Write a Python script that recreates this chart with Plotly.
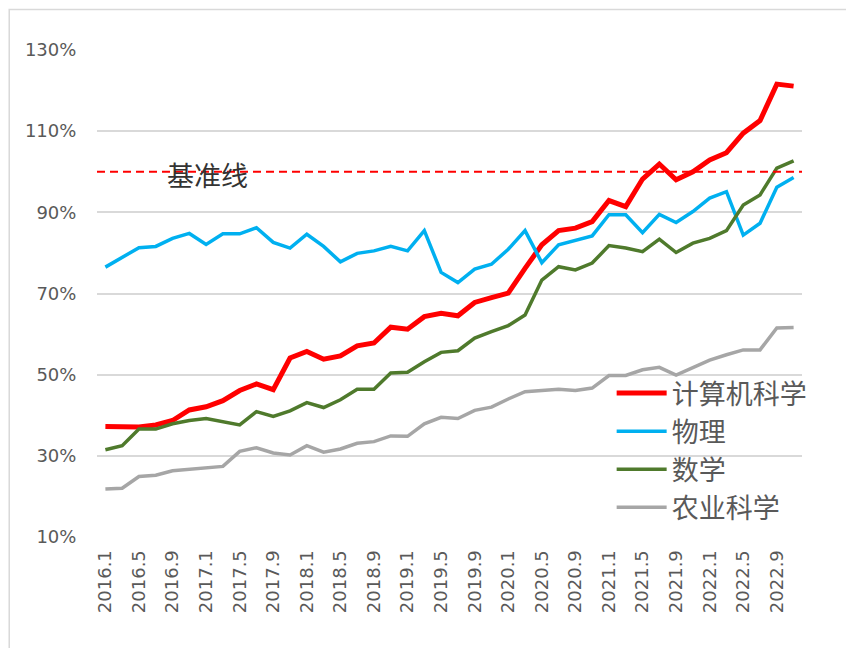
import plotly.graph_objects as go

months = ["2016.1","2016.3","2016.5","2016.7","2016.9","2016.11",
          "2017.1","2017.3","2017.5","2017.7","2017.9","2017.11",
          "2018.1","2018.3","2018.5","2018.7","2018.9","2018.11",
          "2019.1","2019.3","2019.5","2019.7","2019.9","2019.11",
          "2020.1","2020.3","2020.5","2020.7","2020.9","2020.11",
          "2021.1","2021.3","2021.5","2021.7","2021.9","2021.11",
          "2022.1","2022.3","2022.5","2022.7","2022.9","2022.11"]

computer_science = [37.2, 37.3, 37.1, 37.6, 38.7, 41.3, 42.1, 43.6, 46.1, 47.7, 46.3, 54.1,
                    55.7, 53.8, 54.6, 57.1, 57.8, 61.7, 61.2, 64.3, 65.1, 64.5, 67.8, 69.0,
                    70.1, 76.2, 82.0, 85.5, 86.1, 87.7, 92.9, 91.4, 98.2, 101.9, 98.0, 100.0,
                    102.9, 104.7, 109.5, 112.6, 121.6, 121.1]

physics = [76.5, 78.9, 81.3, 81.6, 83.6, 84.8, 82.1, 84.7, 84.7, 86.2, 82.6, 81.2,
           84.6, 81.6, 77.8, 79.9, 80.5, 81.6, 80.5, 85.5, 75.2, 72.7, 76.0, 77.2,
           80.9, 85.5, 77.6, 82.0, 83.1, 84.2, 89.4, 89.4, 85.0, 89.5, 87.5, 90.2,
           93.5, 95.1, 84.4, 87.3, 96.2, 98.6]

mathematics = [31.5, 32.5, 36.6, 36.6, 37.9, 38.7, 39.2, 38.5, 37.6, 40.9, 39.7, 41.1,
               43.1, 41.9, 43.8, 46.4, 46.4, 50.4, 50.6, 53.2, 55.5, 55.9, 59.0, 60.6,
               62.1, 64.7, 73.3, 76.6, 75.8, 77.5, 81.8, 81.2, 80.3, 83.4, 80.1, 82.4,
               83.6, 85.5, 91.8, 94.3, 100.9, 102.7]

agriculture = [21.8, 22.0, 24.9, 25.2, 26.3, 26.6, 27.1, 27.4, 31.1, 32.0, 30.7, 30.2,
               32.5, 30.9, 31.7, 33.1, 33.5, 34.9, 34.8, 37.9, 39.5, 39.2, 41.2, 42.0,
               44.0, 45.8, 46.1, 46.4, 46.1, 46.7, 49.8, 49.8, 51.2, 51.8, 49.9, 51.8,
               53.6, 54.9, 56.1, 56.1, 61.5, 61.6]

series_names = ["计算机科学", "物理", "数学", "农业科学"]
baseline_value = 100
baseline_label = "基准线"
tick_labels = months[::2]

CJK = "Noto Sans CJK SC"
LAT = "DejaVu Sans"

fig = go.Figure()
styles = [("#ff0000", 5), ("#00b0f0", 3.5), ("#4f7a2c", 3.5), ("#a6a6a6", 3.5)]
for name, vals, (col, w) in zip(series_names,
                                [computer_science, physics, mathematics, agriculture],
                                styles):
    fig.add_trace(go.Scatter(x=months, y=vals, mode="lines", name=name,
                             line=dict(color=col, width=w), legendgroup=name))

# baseline
fig.add_shape(type="line", xref="paper", yref="y", x0=0, x1=1,
              y0=baseline_value, y1=baseline_value,
              line=dict(color="#ff0000", width=2, dash="8px,5px"))
fig.add_annotation(xref="paper", yref="y", x=0.157, y=99.3, text=baseline_label,
                   xanchor="center", yanchor="middle",
                   showarrow=False, font=dict(family=CJK, size=27, color="#333333"))

# chart area border
fig.add_shape(type="rect", xref="paper", yref="paper",
              x0=-0.1245, y0=-0.5, x1=1.5, y1=1.083,
              line=dict(color="#d9d9d9", width=1.5), fillcolor="rgba(0,0,0,0)", layer="below")

# page body has an 8px margin, so the figure is sized to fit the window
fig.update_layout(
    width=846, height=640,
    margin=dict(l=89, r=52, t=42, b=111),
    paper_bgcolor="white", plot_bgcolor="white",
    showlegend=True,
    legend=dict(x=0.730, y=0.345, xanchor="left", yanchor="top",
                font=dict(family=CJK, size=27, color="#595959"),
                bgcolor="rgba(0,0,0,0)", itemwidth=50, tracegroupgap=0),
    xaxis=dict(type="category", range=[-0.5, len(months) - 0.5],
               tickmode="array", tickvals=tick_labels, ticktext=tick_labels,
               tickangle=-90, showgrid=False, zeroline=False, showline=False,
               ticks="outside", ticklen=5, tickcolor="rgba(0,0,0,0)",
               tickfont=dict(family=LAT, size=18, color="#595959")),
    yaxis=dict(range=[10, 130], tick0=10, dtick=20, ticksuffix="%",
               showgrid=True, gridcolor="#d9d9d9", gridwidth=1.5,
               zeroline=False, showline=False,
               ticks="outside", ticklen=16, tickcolor="rgba(0,0,0,0)",
               tickfont=dict(family=LAT, size=18, color="#595959")),
)

fig.write_html("out.html")
